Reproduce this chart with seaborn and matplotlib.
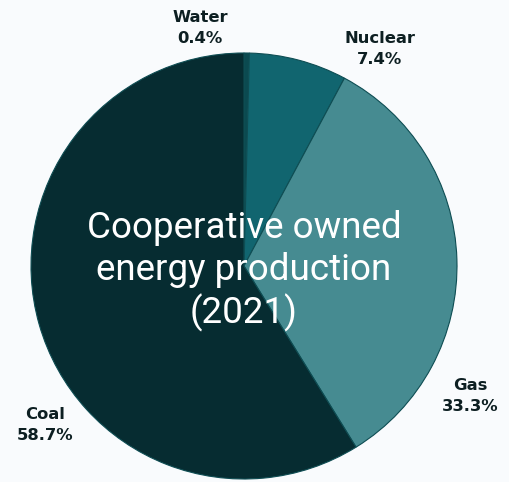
import matplotlib
matplotlib.use("Agg")
import matplotlib.pyplot as plt
import seaborn as sns

sns.set_theme(style="white")
plt.rcParams['font.family'] = ['DejaVu Sans']

categories = ["Water", "Nuclear", "Gas", "Coal"]
shares = [0.4, 7.4, 33.3, 58.7]
colors = ["#0b4a50", "#11656f", "#468b91", "#062c31"]
title_text = "Cooperative owned\nenergy production\n(2021)"

bg = "#f9fbfd"
fig = plt.figure(figsize=(5.10, 4.82), dpi=100, facecolor=bg)
W, H = 510, 482
cx, cy, r = 244, 266, 213
ax = fig.add_axes([(cx - r) / W, (H - cy - r) / H, 2 * r / W, 2 * r / H])
ax.set_facecolor(bg)

wedges, _ = ax.pie(shares, colors=colors, startangle=90, counterclock=False,
                   radius=1.0, wedgeprops=dict(edgecolor="#0e4d53", linewidth=0.8))
ax.set_xlim(-1, 1)
ax.set_ylim(-1, 1)
ax.set_aspect("equal")
ax.axis("off")

# label positions in pixel coordinates of the reference
label_px = [(200, 28), (380, 49), (470, 396), (45, 425)]
for cat, val, (px, py) in zip(categories, shares, label_px):
    fig.text(px / W, 1 - py / H, f"{cat}\n{val:.1f}%", ha="center", va="center",
             fontsize=11.8, fontweight="bold", color="#0d1f22", linespacing=1.55)

fig.text(cx / W, 1 - 271 / H, title_text, ha="center", va="center",
         fontsize=26.5, color="white", family=["Roboto", "DejaVu Sans"],
         linespacing=1.2)

fig.savefig("out.png", dpi=100, facecolor=bg)
